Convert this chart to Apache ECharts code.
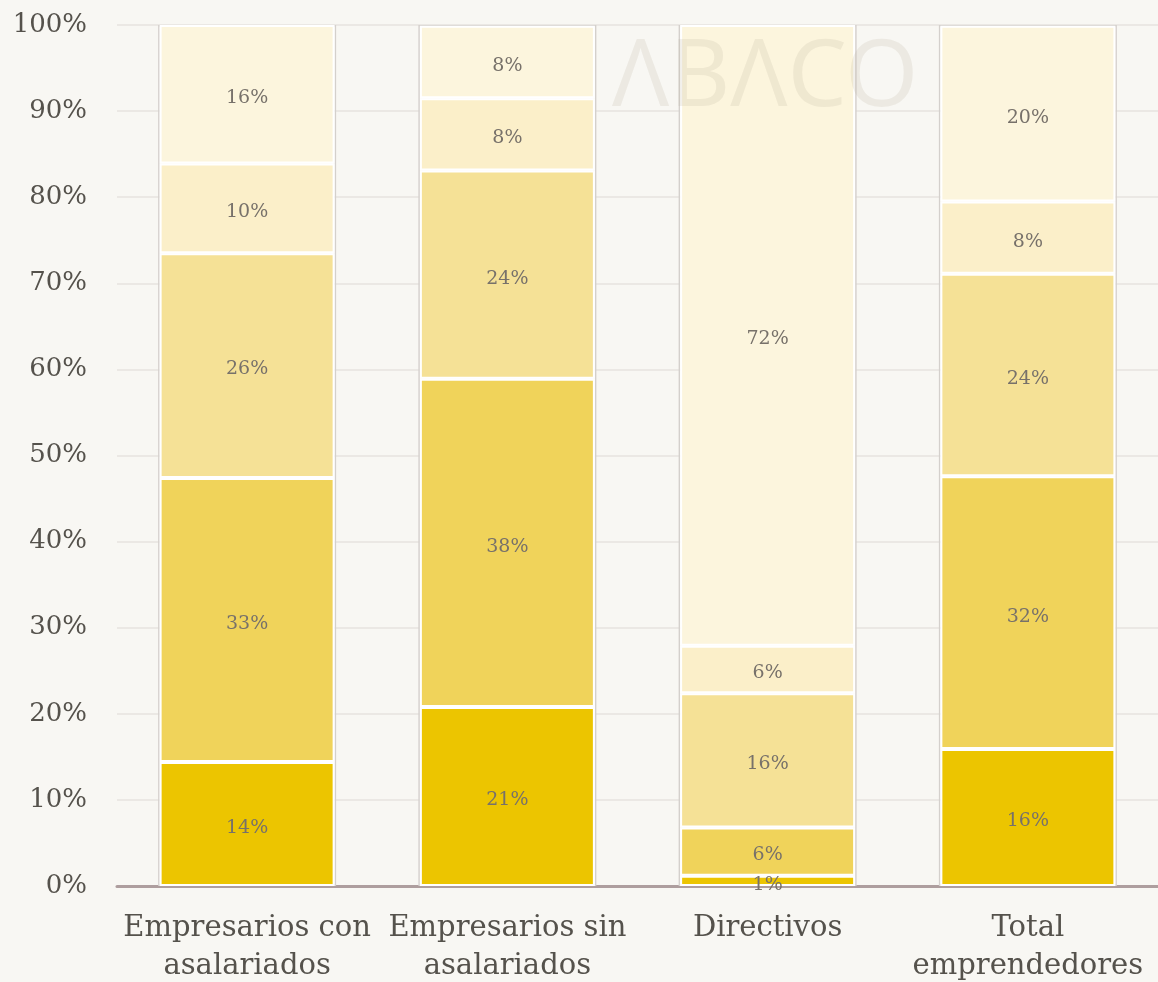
<!DOCTYPE html>
<html><head><meta charset="utf-8">
<script src="https://cdn.jsdelivr.net/npm/echarts@6/dist/echarts.min.js"></script>
<style>html,body{margin:0;padding:0;background:#f8f7f3}#c{width:1158px;height:982px}</style>
</head><body><div id="c"></div>
<script>
const categories = ['Empresarios con\nasalariados', 'Empresarios sin\nasalariados', 'Directivos', 'Total\nemprendedores'];
const seriesA = [14.4, 20.8, 1.2, 15.9];
const seriesB = [33.0, 38.1, 5.6, 31.7];
const seriesC = [26.1, 24.2, 15.6, 23.5];
const seriesD = [10.4, 8.4, 5.5, 8.4];
const seriesE = [16.1, 8.4, 72.1, 20.4];
const fullBar = [100, 100, 100, 100];
const yTicks = [0, 10, 20, 30, 40, 50, 60, 70, 80, 90, 100];

const colors = ['#ecc500', '#f0d35a', '#f5e196', '#fbefc9', '#fcf5dd'];
const font = 'DejaVu Serif';
const chart = echarts.init(document.getElementById('c'));
const mk = (data, i) => ({
  type: 'bar', stack: 's', data, barWidth: 175, z: 3,
  itemStyle: { color: colors[i], borderColor: '#ffffff', borderWidth: 2 },
  label: { show: true, position: 'inside', offset: [0, 4], fontFamily: font, fontSize: 19, color: '#77716a',
    formatter: p => Math.round(p.value) + '%' }
});
chart.setOption({
  backgroundColor: '#f8f7f3',
  animation: false,
  grid: { left: 117, right: 0, top: 25, bottom: 96, outerBoundsMode: 'none', containLabel: false },
  graphic: [{ type: 'text', left: 612, top: 32, z: 10, silent: true,
    style: { text: 'ΛBΛCO', fontFamily: 'Noto Sans', fontSize: 94, fontWeight: 400, fill: 'rgba(190,180,160,0.2)' } }],
  xAxis: [{ type: 'category', data: categories,
    axisLine: { lineStyle: { color: '#ae9e9e', width: 3 } }, axisTick: { show: false },
    axisLabel: { fontFamily: font, fontSize: 29, color: '#55524c', margin: 23, lineHeight: 38, interval: 0 } },
    { type: 'category', data: categories, show: false }],
  yAxis: { type: 'value', min: 0, max: 100, interval: 10,
    axisLabel: { fontFamily: font, fontSize: 26, color: '#55524c', margin: 30,
      formatter: v => yTicks.includes(v) ? v + '%' : '' },
    splitLine: { lineStyle: { color: '#ebe8e4', width: 2 } }, axisLine: { show: false }, axisTick: { show: false } },
  series: [
    { type: 'bar', xAxisIndex: 1, data: fullBar, barWidth: 178, z: 2, silent: true,
      itemStyle: { color: 'rgba(0,0,0,0)', borderColor: '#d4d0cc', borderWidth: 1.5 } },
    mk(seriesA, 0), mk(seriesB, 1), mk(seriesC, 2), mk(seriesD, 3), mk(seriesE, 4)
  ]
});
</script></body></html>
